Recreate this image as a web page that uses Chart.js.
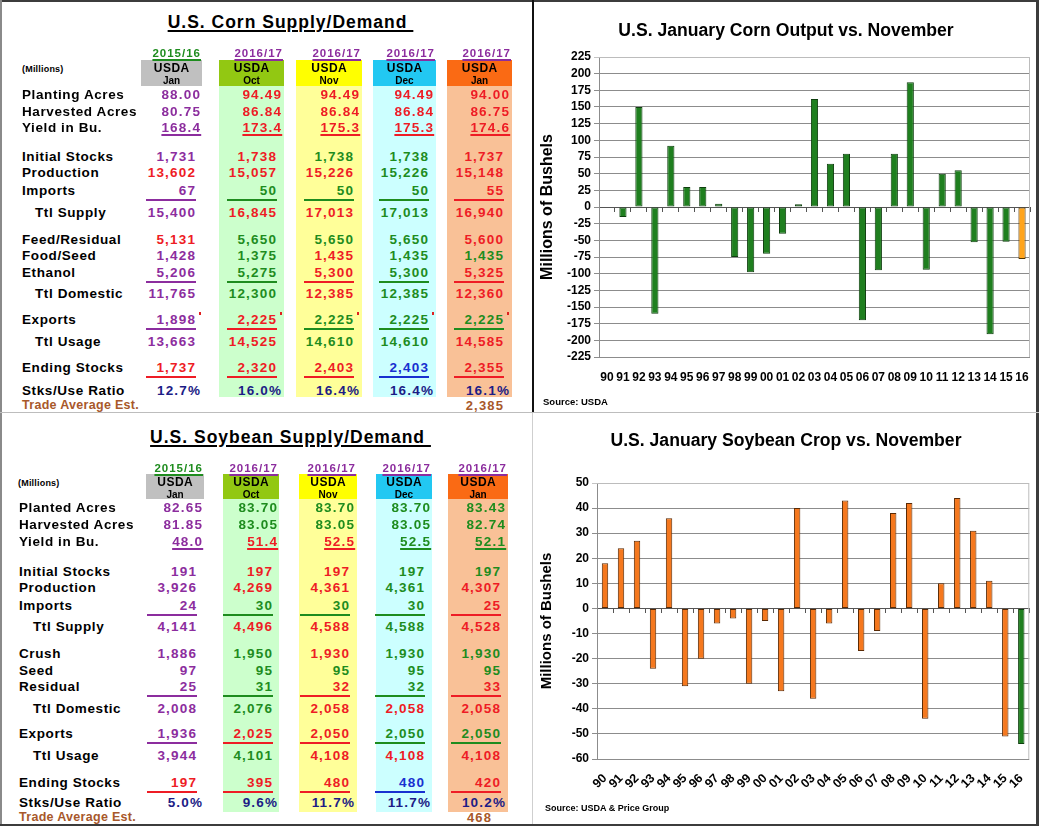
<!DOCTYPE html>
<html>
<head>
<meta charset="utf-8">
<script src="https://cdn.jsdelivr.net/npm/chart.js@4.4.0/dist/chart.umd.min.js"></script>
<style>
  body { margin: 0; background: #fff; }
  #page { position: relative; width: 1039px; height: 826px; overflow: hidden;
          font-family: "Liberation Sans", Arial, sans-serif; font-weight: bold; }
  canvas { position: absolute; }
</style>
</head>
<body>
<div id="page">
  <canvas id="cornChart" width="502" height="410" style="left:534px;top:2px"></canvas>
  <canvas id="soyChart" width="502" height="410" style="left:534px;top:414px"></canvas>
</div>
<script>
// ---- chart data ----
const years = ["90","91","92","93","94","95","96","97","98","99","00","01","02","03","04","05","06","07","08","09","10","11","12","13","14","15","16"];
const cornDiff = [0, -15, 150, -160, 92, 30, 30, 5, -75, -98, -70, -40, 4, 162, 65, 80, -170, -95, 80, 187, -94, 50, 55, -53, -191, -52, -78];
const soyDiff = [18, 24, 27, -24, 36, -31, -20, -6, -4, -30, -5, -33, 40, -36, -6, 43, -17, -9, 38, 42, -44, 10, 44, 31, 11, -51, -54];
const cornTicks = { min: -225, max: 225, step: 25 };
const soyTicks = { min: -60, max: 50, step: 10 };

// ---- table data ----
const colYears = ["2015/16", "2016/17", "2016/17", "2016/17", "2016/17"];
const colMonths = ["Jan", "Oct", "Nov", "Dec", "Jan"];

const cornRows = ["Planting Acres", "Harvested Acres", "Yield in Bu.", "Initial Stocks", "Production", "Imports", "Ttl Supply",
  "Feed/Residual", "Food/Seed", "Ethanol", "Ttl Domestic", "Exports", "Ttl Usage", "Ending Stocks", "Stks/Use Ratio"];
const cornJan16 = ["88.00", "80.75", "168.4", "1,731", "13,602", "67", "15,400", "5,131", "1,428", "5,206", "11,765", "1,898", "13,663", "1,737", "12.7%"];
const cornOct = ["94.49", "86.84", "173.4", "1,738", "15,057", "50", "16,845", "5,650", "1,375", "5,275", "12,300", "2,225", "14,525", "2,320", "16.0%"];
const cornNov = ["94.49", "86.84", "175.3", "1,738", "15,226", "50", "17,013", "5,650", "1,435", "5,300", "12,385", "2,225", "14,610", "2,403", "16.4%"];
const cornDec = ["94.49", "86.84", "175.3", "1,738", "15,226", "50", "17,013", "5,650", "1,435", "5,300", "12,385", "2,225", "14,610", "2,403", "16.4%"];
const cornJan17 = ["94.00", "86.75", "174.6", "1,737", "15,148", "55", "16,940", "5,600", "1,435", "5,325", "12,360", "2,225", "14,585", "2,355", "16.1%"];
const cornTrade = "2,385";

const soyRows = ["Planted Acres", "Harvested Acres", "Yield in Bu.", "Initial Stocks", "Production", "Imports", "Ttl Supply",
  "Crush", "Seed", "Residual", "Ttl Domestic", "Exports", "Ttl Usage", "Ending Stocks", "Stks/Use Ratio"];
const soyJan16 = ["82.65", "81.85", "48.0", "191", "3,926", "24", "4,141", "1,886", "97", "25", "2,008", "1,936", "3,944", "197", "5.0%"];
const soyOct = ["83.70", "83.05", "51.4", "197", "4,269", "30", "4,496", "1,950", "95", "31", "2,076", "2,025", "4,101", "395", "9.6%"];
const soyNov = ["83.70", "83.05", "52.5", "197", "4,361", "30", "4,588", "1,930", "95", "32", "2,058", "2,050", "4,108", "480", "11.7%"];
const soyDec = ["83.70", "83.05", "52.5", "197", "4,361", "30", "4,588", "1,930", "95", "32", "2,058", "2,050", "4,108", "480", "11.7%"];
const soyJan17 = ["83.43", "82.74", "52.1", "197", "4,307", "25", "4,528", "1,930", "95", "33", "2,058", "2,050", "4,108", "420", "10.2%"];
const soyTrade = "468";

// ---- styles ----
const TXT = { p: "#8C2D9E", r: "#EE1C25", g: "#1E8C1E", b: "#1830D0", n: "#1C1C86" };
const BROWN = "#A8582A";
const BOX_FILL = ["#C0C0C0", "#92C812", "#FFFF00", "#22C8F2", "#FA6A14"];
const COL_FILL = [null, "#CCFFCC", "#FFFF99", "#CCFFFF", "#F9C197"];
// colour code for each cell, per column (p purple, r red, g green, b blue, n navy)
const cornInk = ["ppppr pprpp ppprn", "rrrrr grggg grrrn", "rrrgr grgrr rggrn", "rrrgg ggggg gggbn", "rrrrr rrrgr rgrrn"];
const soyInk = ["ppppp ppppp ppprn", "ggrrr grggg grgrn", "ggrrr grrgr rrrrn", "ggggg ggggg rgrbn", "ggggr rrggr rgrrn"];
const DEC_ROWS = [0, 1, 2, 14], UL_TEXT = [2], UL_CELL = [5, 9, 11, 13], INDENT = [6, 10, 12];

const cornLayout = {
  titleX: 290, titleY: 22, yearY: 53, boxTop: 60, boxBot: 86, fillBot: 397, usdaY: 68, monthY: 80,
  boxes: [[141, 202], [219, 284], [296, 362], [373, 436], [447, 512]],
  decEdge: [200, 281, 359, 433, 509], intEdge: [195, 276, 353, 428, 503],
  labelX: 22, indentX: 35, millionsX: 22, millionsY: 69,
  rowY: [95, 112, 128, 157, 173, 191, 213, 240, 256, 273, 294, 320, 342, 368, 391],
  tradeY: 405, tradeEdge: 503, marks: true
};
const soyLayout = {
  titleX: 290, titleY: 437, yearY: 468, boxTop: 474, boxBot: 499, fillBot: 812, usdaY: 482, monthY: 494,
  boxes: [[146, 204], [223, 279], [299, 357], [376, 432], [448, 508]],
  decEdge: [202, 277, 354, 430, 505], intEdge: [196, 272, 349, 424, 500],
  labelX: 19, indentX: 33, millionsX: 18, millionsY: 483,
  rowY: [508, 525, 542, 572, 588, 606, 627, 654, 671, 687, 709, 734, 756, 783, 803],
  tradeY: 817, tradeEdge: 491, marks: false
};

const page = document.getElementById("page");

function rect(x, y, w, h, color) {
  const d = document.createElement("div");
  d.style.cssText = `position:absolute;left:${x}px;top:${y}px;width:${w}px;height:${h}px;background:${color}`;
  page.appendChild(d);
}

// text centred vertically on y; x is the left, right or centre anchor
function put(txt, x, y, align, size, color, ls, extra) {
  const d = document.createElement("div");
  d.textContent = txt;
  const w = 400, lh = Math.round(size * 1.3);
  let left = x;
  if (align === "right") left = x - w + ls;
  if (align === "center") left = x - w / 2 + ls / 2;
  d.style.cssText = `position:absolute;white-space:nowrap;left:${left}px;top:${y - lh / 2}px;width:${w}px;` +
    `height:${lh}px;line-height:${lh}px;font-size:${size}px;color:${color};letter-spacing:${ls}px;text-align:${align};` + (extra || "");
  page.appendChild(d);
  return d;
}

function buildTable(L, title, rows, cols, ink, trade) {
  const underline = "text-decoration:underline;text-decoration-thickness:1.5px;text-underline-offset:2px;";
  cols.forEach((col, c) => {
    const [x0, x1] = L.boxes[c];
    rect(x0, L.boxTop, x1 - x0, L.boxBot - L.boxTop, BOX_FILL[c]);
    if (COL_FILL[c]) rect(x0, L.boxBot, x1 - x0, L.fillBot - L.boxBot, COL_FILL[c]);
  });
  put(title + "\u00a0", L.titleX, L.titleY, "center", 17.5, "#000", 1, underline);
  put("(Millions)", L.millionsX, L.millionsY, "left", 9, "#000", 0.2);

  cols.forEach((col, c) => {
    const [x0, x1] = L.boxes[c];
    const mid = (x0 + x1) / 2;
    put(colYears[c], x1 - 2, L.yearY, "right", 11.5, c === 0 ? TXT.g : TXT.p, 1, underline);
    put("USDA", mid, L.usdaY, "center", 12, "#000", 0.5);
    put(colMonths[c], mid, L.monthY, "center", 10, "#000", 0);
  });

  rows.forEach((label, r) => {
    const y = L.rowY[r];
    put(label, INDENT.includes(r) ? L.indentX : L.labelX, y, "left", 13.5, "#000", 0.6);
    cols.forEach((col, c) => {
      const color = TXT[ink[c].replace(/ /g, "")[r]];
      const edge = DEC_ROWS.includes(r) ? L.decEdge[c] : L.intEdge[c];
      put(col[r], edge, y, "right", 13.5, color, 1.2, UL_TEXT.includes(r) ? underline : "");
      if (UL_CELL.includes(r)) rect(L.intEdge[c] - 49, y + 8, 50, 2, color);
      if (L.marks && r === 11) rect(L.intEdge[c] + 4, y - 8, 2, 3, "#E02020");
    });
  });

  put("Trade Average Est.", L.labelX, L.tradeY, "left", 12.5, BROWN, 0.3);
  put(trade, L.tradeEdge, L.tradeY, "right", 13, BROWN, 1.2);
}

buildTable(cornLayout, "U.S. Corn Supply/Demand", cornRows, [cornJan16, cornOct, cornNov, cornDec, cornJan17], cornInk, cornTrade);
buildTable(soyLayout, "U.S. Soybean Supply/Demand", soyRows, [soyJan16, soyOct, soyNov, soyDec, soyJan17], soyInk, soyTrade);

// ---- charts ----
Chart.defaults.font.family = "'Liberation Sans', Arial, sans-serif";
Chart.defaults.color = "#000";

const plotBorder = {
  id: "plotBorder",
  beforeDatasetsDraw(chart) {
    const a = chart.chartArea, ctx = chart.ctx;
    ctx.save();
    ctx.strokeStyle = "#bcbcbc";
    ctx.lineWidth = 1;
    ctx.beginPath();
    ctx.moveTo(a.left, a.top + 0.5);
    ctx.lineTo(a.right - 0.5, a.top + 0.5);
    ctx.lineTo(a.right - 0.5, a.bottom);
    ctx.stroke();
    ctx.restore();
  }
};

function makeBarChart(id, values, ticks, cfg) {
  const last = values.length - 1;
  return new Chart(document.getElementById(id), {
    type: "bar",
    data: {
      labels: years,
      datasets: [{
        data: values,
        backgroundColor: values.map((v, i) => i === last ? cfg.lastFill : cfg.fill),
        borderColor: values.map((v, i) => i === last ? cfg.lastEdge : cfg.edge),
        borderWidth: 1,
        borderSkipped: false,
        barPercentage: cfg.barPct,
        categoryPercentage: 1,
        xAxisID: "x",
        yAxisID: "y"
      }]
    },
    options: {
      responsive: false,
      animation: false,
      layout: { padding: cfg.pad },
      plugins: { legend: { display: false }, tooltip: { enabled: false } },
      scales: {
        x: {
          position: "bottom",
          grid: { display: false },
          border: { display: false },
          ticks: { font: { size: cfg.xFont, weight: "bold" }, padding: cfg.xPad, minRotation: cfg.rot, maxRotation: cfg.rot, autoSkip: false },
          afterFit(s) { s.height = cfg.xH; }
        },
        xz: {
          type: "category",
          position: { y: 0 },
          offset: true,
          grid: { drawOnChartArea: false, offset: true, color: "#555", tickLength: 4 },
          border: { color: "#555" },
          ticks: { display: false }
        },
        y: {
          min: ticks.min,
          max: ticks.max,
          ticks: { stepSize: ticks.step, autoSkip: false, font: { size: 12, weight: "bold" }, padding: 3 },
          grid: { color: c => (c.tick && c.tick.value === ticks.max) ? "#c4c4c4" : "#8c8c8c", tickLength: 5 },
          border: { color: "#8c8c8c" },
          title: { display: true, text: "Millions of Bushels", font: { size: cfg.yTitle, weight: "bold" }, padding: { top: 4, bottom: 4 } },
          afterFit(s) { s.width = cfg.yW; }
        }
      }
    },
    plugins: [plotBorder]
  });
}

makeBarChart("cornChart", cornDiff, cornTicks, {
  fill: "#1F7F1F", edge: "#0E3F0E", lastFill: "#FFA41C", lastEdge: "#4A3000",
  barPct: 0.45, pad: { top: 55, right: 6, left: 0, bottom: 27 }, xH: 28, xPad: 5, xFont: 12, rot: 0, yW: 65, yTitle: 16
});
makeBarChart("soyChart", soyDiff, soyTicks, {
  fill: "#F5781E", edge: "#5A2A05", lastFill: "#1F7F1F", lastEdge: "#0E3F0E",
  barPct: 0.4, pad: { top: 69, right: 6, left: 0, bottom: 25 }, xH: 40, xPad: 4, xFont: 12.5, rot: 45, yW: 63, yTitle: 15
});

// chart titles and sources
put("U.S. January Corn Output vs. November", 786, 30, "center", 17.6, "#000", 0);
put("U.S. January Soybean Crop vs. November", 786, 440, "center", 17.6, "#000", 0);
put("Source: USDA", 543, 402, "left", 9.5, "#000", 0);
put("Source: USDA & Price Group", 545, 808, "left", 9, "#000", 0);

// panel frame
rect(0, 0, 1039, 2, "#3c3c3c");
rect(0, 0, 2, 826, "#8a8a8a");
rect(1036, 0, 3, 826, "#3c3c3c");
rect(0, 824, 1039, 2, "#3c3c3c");
rect(532, 0, 2, 412, "#111");
rect(0, 412, 1039, 1, "#bdbdbd");
rect(532, 413, 1, 411, "#cfcfcf");
</script>
</body>
</html>
